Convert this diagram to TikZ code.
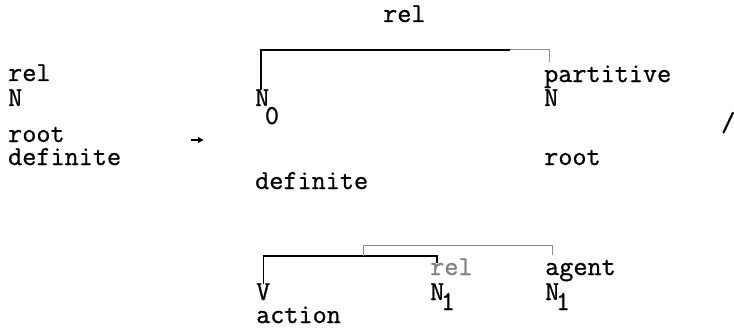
\documentclass[tikz,border=0pt]{standalone}
\usepackage{fontspec}
\setmonofont{Latin Modern Mono}[FakeBold=0.9]
\usetikzlibrary{arrows.meta}

\begin{document}
\begin{tikzpicture}[x=1pt, y=-1pt, word/.style={anchor=base west, inner sep=0pt, text height=16pt, text depth=4pt, font=\fontsize{27.4}{30}\selectfont\ttfamily}, faint/.style={text=black!50}, link/.style={line width=1.1pt}, pale/.style={line width=1pt, black!45}]
\useasboundingbox (0,0) rectangle (734,329);

% left side
\node[word] (lrel) at (8,81) {rel}; \node[word] (ln) at (8,106) {N}; \node[word] (lroot) at (8,142) {root}; \node[word] (ldef) at (8,165) {definite};
\coordinate (ta) at (191,140); \coordinate (tb) at (204,140); \draw[-{Latex[length=6pt, width=7pt]}, line width=1.4pt] (ta)--(tb);

% rel over N0 and partitive N
\node[word] (trel) at (383,22) {rel};
\node[word] (nzero) at (255,106) {N\raisebox{-18pt}{\kern-4.4pt 0}}; \node[word] (mdef) at (255,189) {definite};
\node[word] (part) at (544,82) {partitive}; \node[word] (rn) at (544,106) {N}; \node[word] (rroot) at (544,165) {root};
\coordinate (topl) at (261,50); \coordinate (topm) at (510,50); \coordinate (topr) at (549,50); \coordinate (topend) at (549,62);
\draw[link] (nzero.north -| topl) -- (topl) -- (topm); \draw[pale] (topm) -- (topr) -- (topend);
\node[word] (slash) at (721,131) {/};

% V action with rel and agent
\node[word] (verb) at (256,300) {V}; \node[word] (act) at (256,323) {action};
\node[word, faint] (grel) at (430,275) {rel}; \node[word] (none) at (430,300) {N\raisebox{-10pt}{\kern-3.4pt 1}};
\node[word] (agent) at (545,275) {agent}; \node[word] (ntwo) at (545,300) {N\raisebox{-10pt}{\kern-3.4pt 1}};
\coordinate (vbar) at (437,256); \coordinate (vend) at (437,263);
\draw[link] (verb.north) |- (vbar) -- (vend);
\coordinate (aa) at (363,256); \coordinate (ab) at (363,245); \coordinate (ac) at (552,255);
\draw[pale] (aa) -- (ab) -| (ac);
\end{tikzpicture}
\end{document}
